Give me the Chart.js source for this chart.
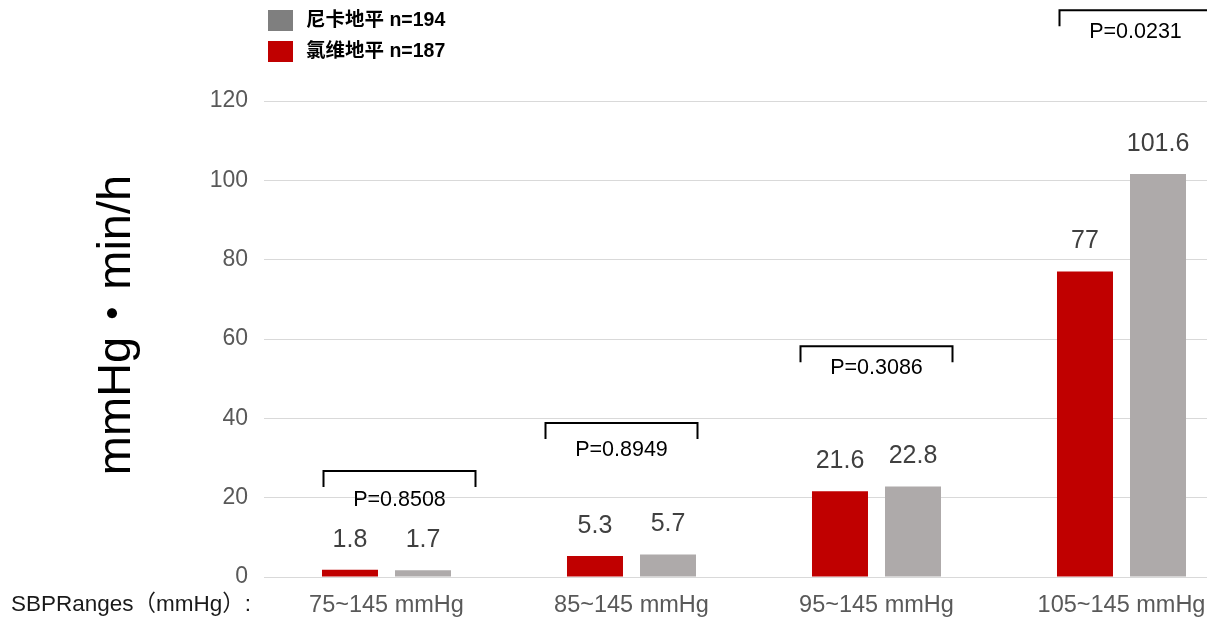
<!DOCTYPE html>
<html>
<head>
<meta charset="utf-8">
<script src="https://cdn.jsdelivr.net/npm/chart.js@4/dist/chart.umd.min.js"></script>
<style>
  html, body { margin: 0; padding: 0; background: #ffffff; }
  #wrap { width: 1207px; height: 618px; overflow: hidden; position: relative; }
  canvas { display: block; }
</style>
</head>
<body>
<div id="wrap"><canvas id="c" width="1250" height="618"></canvas></div>
<script>
// ---- data ----
const categories = ['75~145 mmHg', '85~145 mmHg', '95~145 mmHg', '105~145 mmHg'];
const clevidipineValues = [1.8, 5.3, 21.6, 77];
const nicardipineValues = [1.7, 5.7, 22.8, 101.6];
const clevidipineLabel = '氯维地平 n=187';
const nicardipineLabel = '尼卡地平 n=194';
const pValueLabels = ['P=0.8508', 'P=0.8949', 'P=0.3086', 'P=0.0231'];
const bracketLevels = [26.7, 38.8, 58.2, 142.9];
const yTicks = [0, 20, 40, 60, 80, 100, 120];
const yAxisTitle = 'mmHg・min/h';
const xAxisCaption = 'SBPRanges（mmHg）:';

const FONT = '"Liberation Sans", Arial, "Noto Sans CJK SC", sans-serif';

const annotationPlugin = {
  id: 'annotations',
  afterDatasetsDraw(chart, args, opts) {
    const ctx = chart.ctx;
    const x = chart.scales.x, y = chart.scales.y;
    ctx.save();
    // value labels
    ctx.font = '25px ' + FONT;
    ctx.fillStyle = '#404040';
    ctx.textAlign = 'center';
    ctx.textBaseline = 'middle';
    chart.data.datasets.forEach((ds, di) => {
      const meta = chart.getDatasetMeta(di);
      meta.data.forEach((el, i) => {
        ctx.fillText(String(ds.data[i]), el.x, el.y - 30);
      });
    });
    // brackets with p-values
    ctx.strokeStyle = '#000000';
    ctx.lineWidth = 2;
    ctx.fillStyle = '#000000';
    ctx.font = '21.5px ' + FONT;
    pValueLabels.forEach((txt, i) => {
      const cx = x.getPixelForValue(i) + opts.shift[i];
      const top = y.getPixelForValue(bracketLevels[i]);
      const half = opts.width / 2;
      ctx.beginPath();
      ctx.moveTo(cx - half, top + opts.leg);
      ctx.lineTo(cx - half, top);
      ctx.lineTo(cx + half, top);
      ctx.lineTo(cx + half, top + opts.leg);
      ctx.stroke();
      ctx.fillText(txt, cx, top + opts.textDy[i]);
    });
    // y-axis title
    ctx.save();
    ctx.translate(130, 325);
    ctx.rotate(-Math.PI / 2);
    ctx.font = '47px ' + FONT;
    ctx.textAlign = 'center';
    ctx.textBaseline = 'alphabetic';
    ctx.fillStyle = '#000000';
    ctx.fillText(yAxisTitle, 0, 0);
    ctx.restore();
    // x caption
    ctx.font = '22.5px ' + FONT;
    ctx.textAlign = 'left';
    ctx.textBaseline = 'middle';
    ctx.fillStyle = '#1a1a1a';
    ctx.fillText(xAxisCaption, 11, 605);
    // legend (gray first, then red)
    const legendItems = [
      { label: chart.data.datasets[1].label, color: '#7f7f7f' },
      { label: chart.data.datasets[0].label, color: chart.data.datasets[0].backgroundColor }
    ];
    ctx.font = 'bold 19.5px ' + FONT;
    legendItems.forEach((it, i) => {
      const ty = 21 + i * 31;
      ctx.fillStyle = it.color;
      ctx.fillRect(268, ty - 11, 25, 21);
      ctx.fillStyle = '#000000';
      ctx.fillText(it.label, 306, ty);
    });
    ctx.restore();
  }
};

new Chart(document.getElementById('c'), {
  type: 'bar',
  data: {
    labels: categories,
    datasets: [
      { label: clevidipineLabel, data: clevidipineValues, backgroundColor: '#c00000' },
      { label: nicardipineLabel, data: nicardipineValues, backgroundColor: '#aeaaaa' }
    ]
  },
  options: {
    responsive: false,
    maintainAspectRatio: false,
    animation: false,
    datasets: { bar: { categoryPercentage: 0.596, barPercentage: 0.767 } },
    layout: { padding: { top: 101, left: 0, right: 6, bottom: 0 } },
    plugins: {
      legend: { display: false },
      tooltip: { enabled: false },
      annotations: {
        shift: [13, -10, 0, 14],
        width: 152,
        leg: 16,
        textDy: [29, 27, 22, 22]
      }
    },
    scales: {
      x: {
        grid: { display: false, drawTicks: false },
        border: { display: false },
        ticks: { font: { size: 23.5, family: FONT }, color: '#595959', padding: 14, maxRotation: 0 },
        afterFit(s) { s.height = 41; }
      },
      y: {
        min: 0, max: 120,
        afterBuildTicks(s) { s.ticks = yTicks.map(v => ({ value: v })); },
        grid: { color: '#d9d9d9', lineWidth: 1, drawTicks: false },
        border: { display: false },
        ticks: { font: { size: 23, family: FONT }, color: '#595959', padding: 16 },
        afterFit(s) { s.width = 264; }
      }
    }
  },
  plugins: [annotationPlugin]
});
</script>
</body>
</html>
